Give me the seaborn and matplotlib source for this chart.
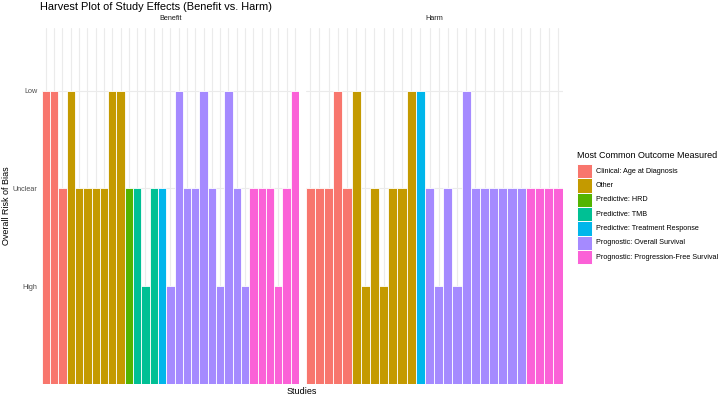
import matplotlib
matplotlib.use("Agg")
import matplotlib.pyplot as plt
from matplotlib.patches import Rectangle
import seaborn as sns
import pandas as pd

sns.set_theme(style="white")
plt.rcParams['font.family'] = ['Liberation Sans', 'DejaVu Sans']

categories = ["Clinical: Age at Diagnosis", "Other", "Predictive: HRD", "Predictive: TMB",
              "Predictive: Treatment Response", "Prognostic: Overall Survival",
              "Prognostic: Progression-Free Survival"]
palette = ["#F8766D", "#C49A00", "#53B400", "#00C094", "#00B6EB", "#A58AFF", "#FB61D7"]
risk_levels = ["High", "Unclear", "Low"]
risk_values = {"High": 1, "Unclear": 2, "Low": 3}

benefit_outcome = ([categories[0]] * 3 + [categories[1]] * 7 + [categories[2]] * 1 +
                   [categories[3]] * 3 + [categories[4]] * 1 + [categories[5]] * 10 +
                   [categories[6]] * 6)
benefit_risk = ["Low", "Low", "Unclear",
                "Low", "Unclear", "Unclear", "Unclear", "Unclear", "Low", "Low",
                "Unclear",
                "Unclear", "High", "Unclear",
                "Unclear",
                "High", "Low", "Unclear", "Unclear", "Low", "Unclear", "High", "Low", "Unclear", "High",
                "Unclear", "Unclear", "Unclear", "High", "Unclear", "Low"]

harm_outcome = ([categories[0]] * 5 + [categories[1]] * 7 + [categories[4]] * 1 +
                [categories[5]] * 11 + [categories[6]] * 4)
harm_risk = ["Unclear", "Unclear", "Unclear", "Low", "Unclear",
             "Low", "High", "Unclear", "High", "Unclear", "Unclear", "Low",
             "Low",
             "Unclear", "High", "Unclear", "High", "Low", "Unclear", "Unclear", "Unclear", "Unclear",
             "Unclear", "Unclear",
             "Unclear", "Unclear", "Unclear", "Unclear"]

W, H = 720, 397
fig = plt.figure(figsize=(7.2, 3.97), dpi=100)

def px_axes(x0, y0, x1, y1):
    return fig.add_axes([x0 / W, 1 - y1 / H, (x1 - x0) / W, (y1 - y0) / H])

color_map = dict(zip(categories, palette))
panels = [("Benefit", benefit_outcome, benefit_risk, 41.7, 299.0),
          ("Harm", harm_outcome, harm_risk, 305.7, 562.5)]
grid_c = "#EBEBEB"
small = 5.2
for i, (name, outc, risk, x0, x1) in enumerate(panels):
    ax = px_axes(x0, 28, x1, 384)
    df = pd.DataFrame({"study": [f"{name}{k:02d}" for k in range(len(outc))],
                       "outcome": outc,
                       "height": [risk_values[r] for r in risk]})
    n = len(df)
    for k in range(n):
        ax.axvline(k, color=grid_c, lw=0.8, zorder=0)
    for v in (1, 2, 3):
        ax.axhline(v, color=grid_c, lw=0.8, zorder=0)
    sns.barplot(data=df, x="study", y="height", hue="outcome", hue_order=categories,
                palette=color_map, dodge=False, width=1.0, edgecolor="white",
                linewidth=0.6, saturation=1, legend=False, ax=ax, zorder=2)
    ax.set_xlim(-0.5, n - 0.5)
    ax.set_ylim(0, 3.64)
    ax.set_xticks([])
    ax.set_xlabel("")
    ax.set_ylabel("")
    for s in ax.spines.values():
        s.set_visible(False)
    if i == 0:
        ax.set_yticks([1, 2, 3])
        ax.set_yticklabels(risk_levels, fontsize=small, color="#4D4D4D")
        ax.tick_params(axis="y", length=0, pad=3.2)
    else:
        ax.set_yticks([])
    fig.text((x0 + x1) / 2 / W, 1 - 19 / H, name, ha="center", va="center",
             fontsize=small, color="#1A1A1A")

fig.text(40 / W, 1 - 6.5 / H, "Harvest Plot of Study Effects (Benefit vs. Harm)",
         ha="left", va="center", fontsize=7.9, color="black")
fig.text(302 / W, 1 - 391 / H, "Studies", ha="center", va="center", fontsize=6.5,
         color="black")
fig.text(7 / W, 1 - 206 / H, "Overall Risk of Bias", ha="center", va="center",
         rotation=90, fontsize=6.5, color="black")

# legend
fig.text(577 / W, 1 - 155 / H, "Most Common Outcome Measured", ha="left", va="center",
         fontsize=6.5, color="black")
key_x0, key_w, key_y0, key_h = 577.3, 14.3, 164.0, 14.33
for k, (lab, col) in enumerate(zip(categories, palette)):
    yt = key_y0 + k * key_h
    fig.patches.append(Rectangle((key_x0 / W, 1 - (yt + key_h) / H), key_w / W, key_h / H,
                                 transform=fig.transFigure, facecolor=col,
                                 edgecolor="white", linewidth=0.7))
    fig.text(596 / W, 1 - (yt + key_h / 2) / H, lab, ha="left", va="center",
             fontsize=small, color="black")

fig.savefig("out.png", dpi=100, facecolor="white")
